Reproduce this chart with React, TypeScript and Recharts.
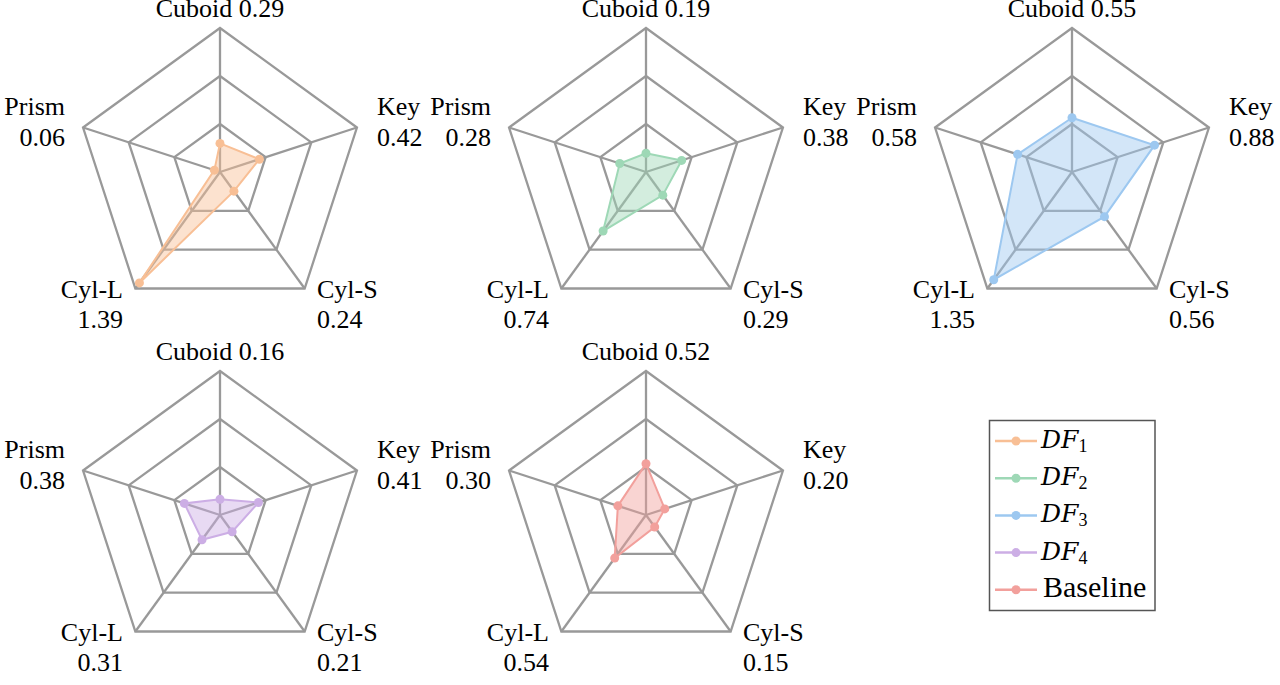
import React from 'react';
import { RadarChart, Radar, PolarGrid, PolarAngleAxis, PolarRadiusAxis } from 'recharts';

const categories = ['Cuboid', 'Key', 'Cyl-S', 'Cyl-L', 'Prism'];
const df1Values = [0.29, 0.42, 0.24, 1.39, 0.06];
const df2Values = [0.19, 0.38, 0.29, 0.74, 0.28];
const df3Values = [0.55, 0.88, 0.56, 1.35, 0.58];
const df4Values = [0.16, 0.41, 0.21, 0.31, 0.38];
const baselineValues = [0.52, 0.2, 0.15, 0.54, 0.3];

const seriesKeys = ['DF1', 'DF2', 'DF3', 'DF4', 'Baseline'];
const seriesColors = ['#F8BF95', '#9ED8B6', '#9DC8F0', '#CCAEE5', '#F2A09C'];
const seriesValues = [df1Values, df2Values, df3Values, df4Values, baselineValues];

const radiusDomain: [number, number] = [0, 1.46];
const gridLevels = [1 / 3, 2 / 3, 1];

const OUTER_R = 144;
const CHART_W = 440;
const CHART_H = 344;
const CX = 220;
const CY = 172;
const panelCenters = [
  { x: 220, y: 172 },
  { x: 645.7, y: 172 },
  { x: 1072.3, y: 172 },
  { x: 220, y: 514.5 },
  { x: 645.7, y: 514.5 },
];

const SERIF = 'Liberation Serif';

const labelLayout = [
  { dx: 0, dys: [-3], anchor: 'middle', single: true },
  { dx: 12.4, dys: [-10, 21], anchor: 'start', single: false },
  { dx: 7.7, dys: [3, 33], anchor: 'start', single: false },
  { dx: -7.7, dys: [3, 33], anchor: 'end', single: false },
  { dx: -10.4, dys: [-10, 21], anchor: 'end', single: false },
];

function makeTick(values: number[]) {
  return (props: any) => {
    const { x, y, payload } = props;
    let i = props.index;
    if (i == null) i = categories.indexOf(payload.value);
    const lay = labelLayout[i];
    const valText = values[i].toFixed(2);
    if (lay.single) {
      return (
        <g>
          <text x={x + lay.dx} y={y + lay.dys[0]} textAnchor="middle" fontFamily={SERIF} fontSize={26} fill="#000">
            {`${payload.value} ${valText}`}
          </text>
        </g>
      );
    }
    return (
      <g>
        <text x={x + lay.dx} y={y + lay.dys[0]} textAnchor={lay.anchor} fontFamily={SERIF} fontSize={26} fill="#000">
          {payload.value}
        </text>
        <text x={x + lay.dx} y={y + lay.dys[1]} textAnchor={lay.anchor} fontFamily={SERIF} fontSize={26} fill="#000">
          {valText}
        </text>
      </g>
    );
  };
}

function Panel({ idx }: { idx: number }) {
  const values = seriesValues[idx];
  const color = seriesColors[idx];
  const data = categories.map((c, i) => ({ axis: c, value: values[i] }));
  const c = panelCenters[idx];
  return (
    <div style={{ position: 'absolute', left: c.x - CX, top: c.y - CY, width: CHART_W, height: CHART_H }}>
      <RadarChart
        width={CHART_W}
        height={CHART_H}
        cx={CX}
        cy={CY}
        outerRadius={OUTER_R}
        margin={{ top: 0, right: 0, bottom: 0, left: 0 }}
        data={data}
      >
        <PolarGrid
          gridType="polygon"
          polarRadius={gridLevels.map((l) => l * OUTER_R)}
          stroke="#999999"
          strokeWidth={2.3}
        />
        <PolarAngleAxis dataKey="axis" tick={makeTick(values)} tickLine={false} axisLine={false} />
        <PolarRadiusAxis domain={radiusDomain} tick={false} axisLine={false} />
        <Radar
          name={seriesKeys[idx]}
          dataKey="value"
          stroke={color}
          strokeWidth={2}
          fill={color}
          fillOpacity={0.45}
          dot={{ r: 4.5, fill: color, fillOpacity: 1, stroke: 'none' }}
          isAnimationActive={false}
        />
      </RadarChart>
    </div>
  );
}

function LegendBox() {
  const rowY0 = 441;
  const rowStep = 37.2;
  return (
    <svg width={1280} height={685} style={{ position: 'absolute', left: 0, top: 0, pointerEvents: 'none' }}>
      <rect x={989.5} y={420.5} width={165.5} height={190} fill="#fff" stroke="#555" strokeWidth={1.5} />
      {seriesKeys.map((k, i) => {
        const y = rowY0 + i * rowStep;
        const col = seriesColors[i];
        const isDF = k.startsWith('DF');
        return (
          <g key={k}>
            <line x1={995} x2={1037} y1={y} y2={y} stroke={col} strokeWidth={2.5} />
            <circle cx={1016} cy={y} r={4.5} fill={col} />
            {isDF ? (
              <text x={1041} y={y + 7} fontFamily="DejaVu Serif" fontSize={25} fill="#000">
                <tspan fontStyle="italic">DF</tspan>
                <tspan dy={4} fontFamily={SERIF} fontSize={18}>{k.slice(2)}</tspan>
              </text>
            ) : (
              <text x={1043} y={y + 7} fontFamily={SERIF} fontSize={30} fill="#000">
                {k}
              </text>
            )}
          </g>
        );
      })}
    </svg>
  );
}

export default function App() {
  return (
    <div style={{ position: 'absolute', left: 0, top: 0, width: 1280, height: 685, overflow: 'hidden', background: '#fff' }}>
      {panelCenters.map((_, i) => (
        <Panel key={i} idx={i} />
      ))}
      <LegendBox />
    </div>
  );
}
